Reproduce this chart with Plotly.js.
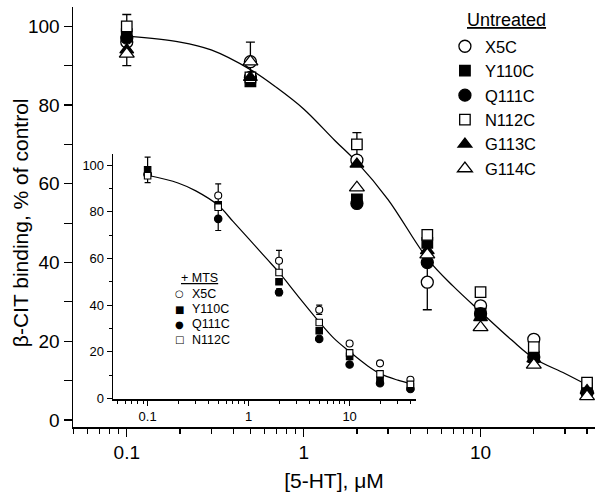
<!DOCTYPE html>
<html>
<head>
<meta charset="utf-8">
<script src="https://cdn.plot.ly/plotly-3.0.1.min.js"></script>
<style>html,body{margin:0;padding:0;background:#fff;}#chart{width:600px;height:492px;}</style>
</head>
<body>
<div id="chart"></div>
<script>
// ---------- DATA ----------
var conc = [0.1, 0.5, 2, 5, 10, 20, 40];            // [5-HT], µM
var seriesNames = ['X5C', 'Y110C', 'Q111C', 'N112C', 'G113C', 'G114C'];

// Main panel (Untreated), % of control
var mainX5C   = [96, 91, 66, 35, 29, 20.5, 7];
var mainY110C = [98, 86, 56, 45, 27, 16, 8];
var mainQ111C = [97, 87, 55, 40, 27, 16, 7];
var mainN112C = [100, 87, 70, 47, 32.5, 18.5, 9.5];
var mainG113C = [94, 87, 65, 43, 26, 15.5, 7.5];
var mainG114C = [93, 91, 59, 42, 23.5, 14, 6];
// Main panel error bars (SE)
var errMainX5C   = [0, 0, 0, 7, 0, 0, 0];
var errMainY110C = [0, 0, 0, 0, 0, 0, 0];
var errMainQ111C = [0, 0, 0, 0, 0, 0, 0];
var errMainN112C = [3, 0, 3, 0, 0, 0, 0];
var errMainG113C = [0, 0, 0, 0, 0, 0, 0];
var errMainG114C = [3, 5, 0, 0, 0, 0, 0];
// Main fitted curve
var mainCurveX = [0.1, 0.2, 0.3, 0.5, 0.7, 1, 1.5, 2, 3, 5, 7, 10, 15, 20, 30, 40];
var mainCurveY = [97.5, 96, 94, 89, 84.5, 79, 71, 65.5, 56, 41, 34, 27.5, 20.3, 15.7, 11.8, 8.9];

// Inset (+ MTS), % of control
var insetNames = ['X5C', 'Y110C', 'Q111C', 'N112C'];
var insetX5C   = [96, 87, 59, 38, 23.5, 15, 8];
var insetY110C = [98, 83, 50, 29, 18, 8, 5];
var insetQ111C = [96, 77, 45.5, 25.5, 14.5, 6.5, 4];
var insetN112C = [95.5, 82, 54, 32.5, 19.5, 10.5, 6];
var errInsetX5C   = [0, 5, 4.5, 2, 0, 0, 0];
var errInsetY110C = [5.5, 0, 0, 0, 0, 0, 0];
var errInsetQ111C = [0, 5, 1.5, 0, 0, 0, 0];
var errInsetN112C = [0, 0, 0, 0, 0, 0, 0];
var insetCurveX = [0.1, 0.2, 0.3, 0.5, 0.7, 1, 1.5, 2, 3, 5, 7, 10, 15, 20, 30, 40];
var insetCurveY = [95.7, 92.4, 89, 82.8, 75.9, 68.5, 60, 54, 44.5, 32.8, 25.7, 20, 14, 10.6, 7.8, 6.3];

// Tick labels and titles
var xTickVals = [0.1, 1, 10];
var xTickText = ['0.1', '1', '10'];
var mainLegendTitle = 'Untreated';
var insetLegendTitle = '+ MTS';
var xTitle = '[5-HT], \u03bcM';
var yTitle = '\u03b2-CIT binding, % of control';

// ---------- STYLE ----------
var FONT = 'Liberation Sans, Arial, sans-serif';
var styles = {
  X5C:   {symbol: 'circle',      fill: 'white', sizeMain: 12, sizeInset: 7, glyph: '\u25CB'},
  Y110C: {symbol: 'square',      fill: 'black', sizeMain: 10.5, sizeInset: 6.5, glyph: '\u25A0'},
  Q111C: {symbol: 'circle',      fill: 'black', sizeMain: 12, sizeInset: 7.5, glyph: '\u25CF'},
  N112C: {symbol: 'square',      fill: 'white', sizeMain: 10.5, sizeInset: 6.5, glyph: '\u25A1'},
  G113C: {symbol: 'triangle-up', fill: 'black', sizeMain: 12, sizeInset: 7},
  G114C: {symbol: 'triangle-up', fill: 'white', sizeMain: 13, sizeInset: 7}
};
var mainVals = {X5C: mainX5C, Y110C: mainY110C, Q111C: mainQ111C, N112C: mainN112C, G113C: mainG113C, G114C: mainG114C};
var mainErrs = {X5C: errMainX5C, Y110C: errMainY110C, Q111C: errMainQ111C, N112C: errMainN112C, G113C: errMainG113C, G114C: errMainG114C};
var insetVals = {X5C: insetX5C, Y110C: insetY110C, Q111C: insetQ111C, N112C: insetN112C};
var insetErrs = {X5C: errInsetX5C, Y110C: errInsetY110C, Q111C: errInsetQ111C, N112C: errInsetN112C};

var traces = [];
traces.push({x: mainCurveX, y: mainCurveY, mode: 'lines', line: {color: 'black', width: 1.3, shape: 'spline'},
  showlegend: false, hoverinfo: 'skip', xaxis: 'x', yaxis: 'y'});
seriesNames.forEach(function (n) {
  traces.push({x: conc, y: mainVals[n], mode: 'markers', marker: {size: 1, color: 'rgba(0,0,0,0)'},
    error_y: {type: 'data', array: mainErrs[n], visible: true, color: 'black', thickness: 1.3, width: 4.5},
    showlegend: false, hoverinfo: 'skip', xaxis: 'x', yaxis: 'y'});
});
seriesNames.forEach(function (n) {
  var s = styles[n];
  traces.push({x: conc, y: mainVals[n], name: n, mode: 'markers',
    marker: {symbol: s.symbol, size: s.sizeMain, color: s.fill, line: {color: 'black', width: 1.3}},
    xaxis: 'x', yaxis: 'y', legend: 'legend'});
});
traces.push({x: insetCurveX, y: insetCurveY, mode: 'lines', line: {color: 'black', width: 1.2, shape: 'spline'},
  showlegend: false, hoverinfo: 'skip', xaxis: 'x2', yaxis: 'y2'});
insetNames.forEach(function (n) {
  traces.push({x: conc, y: insetVals[n], mode: 'markers', marker: {size: 1, color: 'rgba(0,0,0,0)'},
    error_y: {type: 'data', array: insetErrs[n], visible: true, color: 'black', thickness: 1.2, width: 3},
    showlegend: false, hoverinfo: 'skip', xaxis: 'x2', yaxis: 'y2'});
});
insetNames.forEach(function (n) {
  var s = styles[n];
  traces.push({x: conc, y: insetVals[n], name: n, mode: 'markers', showlegend: false,
    marker: {symbol: s.symbol, size: s.sizeInset, color: s.fill, line: {color: 'black', width: 1.1}},
    xaxis: 'x2', yaxis: 'y2'});
});

// Pixel layout -> paper coords
var PL = 73, PW = 522, PB = 426.7, PH = 419.7;
function px2x(p) { return (p - PL) / PW; }
function px2y(p) { return (PB - p) / PH; }
var annotations = [];
// y axis title
annotations.push({xref: 'paper', yref: 'paper', x: px2x(20), y: px2y(223), xanchor: 'center', yanchor: 'middle',
  text: yTitle, textangle: -90, showarrow: false, font: {size: 21, family: FONT, color: 'black'}});
// main legend title
annotations.push({xref: 'paper', yref: 'paper', x: px2x(506), y: px2y(20), xanchor: 'center', yanchor: 'middle',
  text: mainLegendTitle, showarrow: false,
  font: {size: 18, family: FONT, color: 'black', lineposition: 'under'}});
// inset legend
annotations.push({xref: 'paper', yref: 'paper', x: px2x(199), y: px2y(278), xanchor: 'center', yanchor: 'middle',
  text: insetLegendTitle, showarrow: false,
  font: {size: 12.5, family: FONT, color: 'black', lineposition: 'under'}});
insetNames.forEach(function (n, i) {
  var py = 293.5 + i * 15.3;
  annotations.push({xref: 'paper', yref: 'paper', x: px2x(179), y: px2y(py), xanchor: 'center', yanchor: 'middle',
    text: styles[n].glyph, showarrow: false, font: {size: 10, family: 'DejaVu Sans', color: 'black'}});
  annotations.push({xref: 'paper', yref: 'paper', x: px2x(190), y: px2y(py), xanchor: 'left', yanchor: 'middle',
    text: n, showarrow: false, font: {size: 12.5, family: FONT, color: 'black'}});
});

var axisCommon = {showline: true, linecolor: 'black', showgrid: false, zeroline: false, ticks: 'outside',
  tickcolor: 'black', fixedrange: true};

var layout = {
  width: 600, height: 492,
  margin: {l: 73, r: 5, t: 7, b: 65, pad: 0},
  paper_bgcolor: 'white', plot_bgcolor: 'rgba(0,0,0,0)',
  font: {family: FONT, color: 'black'},
  showlegend: true,
  annotations: annotations,
  xaxis: Object.assign({}, axisCommon, {
    type: 'log', range: [-1.304, 1.647], domain: [0, 1], anchor: 'y',
    linewidth: 1.5, ticklen: 8, tickwidth: 1.3,
    tickmode: 'array', tickvals: xTickVals, ticktext: xTickText,
    tickfont: {size: 19, family: FONT},
    minor: {dtick: 'D1', ticks: 'outside', ticklen: 5, tickwidth: 1.2, tickcolor: 'black', showgrid: false},
    title: {text: xTitle, font: {size: 21, family: FONT}, standoff: 11}
  }),
  yaxis: Object.assign({}, axisCommon, {
    range: [-1.78, 104.9], domain: [0, 1], anchor: 'x',
    linewidth: 1.5, ticklen: 8, tickwidth: 1.3,
    tick0: 0, dtick: 20, tickfont: {size: 19, family: FONT},
    minor: {dtick: 10, ticks: 'outside', ticklen: 8, tickwidth: 1.2, tickcolor: 'black', showgrid: false}
  }),
  xaxis2: Object.assign({}, axisCommon, {
    type: 'log', range: [-1.343, 1.662], domain: [0.0766, 0.658], anchor: 'y2',
    linewidth: 1.3, ticklen: 5, tickwidth: 1.1,
    tickmode: 'array', tickvals: xTickVals, ticktext: xTickText,
    tickfont: {size: 13, family: FONT},
    minor: {dtick: 'D1', ticks: 'outside', ticklen: 3, tickwidth: 1, tickcolor: 'black', showgrid: false}
  }),
  yaxis2: Object.assign({}, axisCommon, {
    range: [-0.5, 105], domain: [0.0655, 0.651], anchor: 'x2',
    linewidth: 1.3, ticklen: 5, tickwidth: 1.1,
    tick0: 0, dtick: 20, tickfont: {size: 13, family: FONT},
    minor: {dtick: 10, ticks: 'outside', ticklen: 3, tickwidth: 1, tickcolor: 'black', showgrid: false}
  }),
  legend: {
    x: 0.7125, y: 0.9476, xanchor: 'left', yanchor: 'top', bgcolor: 'rgba(0,0,0,0)', borderwidth: 0,
    font: {size: 16.5, family: FONT, color: 'black'}, tracegroupgap: 0
  }
};

Plotly.newPlot('chart', traces, layout, {staticPlot: true, displayModeBar: false});
</script>
</body>
</html>
